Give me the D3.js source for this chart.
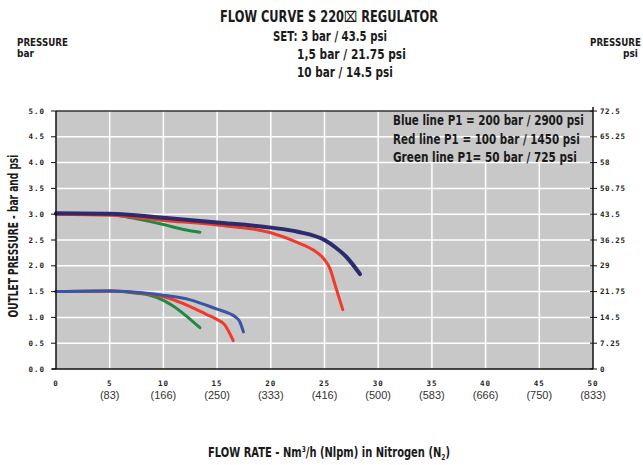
<!DOCTYPE html>
<html>
<head>
<meta charset="utf-8">
<script src="https://cdn.jsdelivr.net/npm/d3@7"></script>
<style>
  body { margin: 0; background: #fff; }
  .cond { font-family: "DejaVu Sans", sans-serif; font-weight: bold; fill: #1a1a1a; }
  .tick-small { font-family: "DejaVu Sans Mono", monospace; font-weight: bold; font-size: 7.5px; letter-spacing: 1px; fill: #222; }
  .nlpm { font-family: "Liberation Sans", Arial, sans-serif; font-size: 11px; fill: #333; }
</style>
</head>
<body>
<div id="chart"></div>
<script>
// flow in Nm3/h, outlet pressure in bar
var xTicks = [0, 5, 10, 15, 20, 25, 30, 35, 40, 45, 50];
var nlpmLabels = ["", "(83)", "(166)", "(250)", "(333)", "(416)", "(500)", "(583)", "(666)", "(750)", "(833)"];
var barTicks = [0, 0.5, 1, 1.5, 2, 2.5, 3, 3.5, 4, 4.5, 5];
var psiLabels = ["0", "7.25", "14.5", "21.75", "29", "36.25", "43.5", "50.75", "58", "65.25", "72.5"];

var titleLines = ["FLOW CURVE S 220\u2327 REGULATOR", "SET: 3 bar / 43.5 psi", "1,5 bar / 21.75 psi", "10 bar / 14.5 psi"];
var legendLines = ["Blue line P1 = 200 bar / 2900 psi", "Red line P1 = 100 bar / 1450 psi", "Green line P1= 50 bar / 725 psi"];

// set 3 bar
var green3 = [[0, 3.0], [5, 3.0], [6, 2.97], [8, 2.89], [10, 2.80], [12, 2.70], [13.4, 2.65]];
var red3 = [[0, 3.0], [5, 2.98], [10, 2.88], [15, 2.79], [20, 2.64], [22.5, 2.45], [24, 2.30], [25, 2.12], [25.5, 1.95], [26, 1.62], [26.4, 1.35], [26.7, 1.15]];
var blue3 = [[0, 3.02], [5, 3.01], [10, 2.93], [15, 2.84], [20, 2.74], [22.5, 2.66], [25, 2.50], [26, 2.36], [27, 2.18], [28.3, 1.84]];
// set 1,5 bar
var green15 = [[0, 1.5], [5, 1.51], [7.5, 1.47], [8.75, 1.43], [10, 1.33], [10.9, 1.22], [12, 1.05], [13.4, 0.80]];
var red15 = [[0, 1.5], [5, 1.51], [8, 1.47], [10, 1.40], [12.5, 1.21], [14, 1.06], [15, 0.96], [15.7, 0.86], [16.1, 0.72], [16.5, 0.55]];
var blue15 = [[0, 1.5], [5, 1.51], [8, 1.48], [10, 1.43], [12.5, 1.34], [15, 1.16], [16.2, 1.07], [16.7, 1.01], [17.1, 0.92], [17.45, 0.72]];

var series = [
  {data: green3, color: "#1f8a3f", w: 3},
  {data: red3, color: "#f03a2c", w: 3},
  {data: blue3, color: "#2c2b6e", w: 4},
  {data: green15, color: "#1f8a3f", w: 3},
  {data: red15, color: "#f03a2c", w: 3},
  {data: blue15, color: "#3b55a6", w: 3}
];

var W = 643, H = 465;
var pl = 56, pr = 593, pt = 111, pb = 369;

var svg = d3.select("#chart").append("svg").attr("width", W).attr("height", H);

var x = d3.scaleLinear().domain([0, 50]).range([pl, pr]);
var y = d3.scaleLinear().domain([0, 5]).range([pb, pt]);

// squeeze a bold text horizontally so it looks condensed and fills the given width
function condText(parent, str, tx, ty, size, width, anchor, rot) {
  var g = parent.append("g");
  var t = g.append("text").attr("class", "cond").attr("font-size", size).text(str);
  var k = width / t.node().getComputedTextLength();
  var dx = anchor === "end" ? -width : anchor === "middle" ? -width / 2 : 0;
  g.attr("transform", "translate(" + tx + "," + ty + ")" + (rot ? " rotate(" + rot + ")" : "") + " translate(" + dx + ",0) scale(" + k + ",1)");
  return t;
}

// plot background
svg.append("rect").attr("x", pl).attr("y", pt).attr("width", pr - pl).attr("height", pb - pt).attr("fill", "#c8c8c8");

// grid (right-hand verticals stop under the legend)
svg.append("g").selectAll("line").data(xTicks.slice(1, -1)).enter().append("line")
  .attr("x1", d => x(d)).attr("x2", d => x(d))
  .attr("y1", d => d >= 35 ? y(4) : pt).attr("y2", pb)
  .attr("stroke", "#fff").attr("stroke-width", 1.5);
svg.append("g").selectAll("line").data(barTicks.slice(1, -1)).enter().append("line")
  .attr("x1", pl).attr("x2", pr).attr("y1", d => y(d)).attr("y2", d => y(d))
  .attr("stroke", "#fff").attr("stroke-width", 1.5);

// legend
var legendLen = [191, 187, 184];
legendLines.forEach(function(d, i) {
  condText(svg, d, 393, 125 + i * 18.5, 14, legendLen[i]);
});

// curves
var line = d3.line().x(d => x(d[0])).y(d => y(d[1])).curve(d3.curveMonotoneX);
svg.append("g").selectAll("path").data(series).enter().append("path")
  .attr("d", d => line(d.data)).attr("fill", "none")
  .attr("stroke", d => d.color).attr("stroke-width", d => d.w)
  .attr("stroke-linecap", "round");

// frame
svg.append("line").attr("x1", pl).attr("x2", pr).attr("y1", pt).attr("y2", pt).attr("stroke", "#333").attr("stroke-width", 1.5);
svg.append("line").attr("x1", pl).attr("x2", pl).attr("y1", pt).attr("y2", pb).attr("stroke", "#111").attr("stroke-width", 1.5);
svg.append("line").attr("x1", pr).attr("x2", pr).attr("y1", pt - 4).attr("y2", pb).attr("stroke", "#111").attr("stroke-width", 1.5);
svg.append("line").attr("x1", pl - 4).attr("x2", pr).attr("y1", pb).attr("y2", pb).attr("stroke", "#111").attr("stroke-width", 1.5);

// left axis (bar)
var yl = svg.append("g");
yl.selectAll("line").data(barTicks).enter().append("line")
  .attr("x1", pl - 5).attr("x2", pl).attr("y1", d => y(d)).attr("y2", d => y(d)).attr("stroke", "#111");
yl.selectAll("text").data(barTicks).enter().append("text")
  .attr("class", "tick-small").attr("x", 45).attr("y", d => y(d) + 2.5).attr("text-anchor", "end")
  .text(d => d3.format(".1f")(d));

// right axis (psi)
var yr = svg.append("g");
yr.selectAll("line").data(barTicks).enter().append("line")
  .attr("x1", pr - 3).attr("x2", pr + 4).attr("y1", d => y(d)).attr("y2", d => y(d)).attr("stroke", "#111");
yr.selectAll("text").data(barTicks).enter().append("text")
  .attr("class", "tick-small").attr("x", 600).attr("y", d => y(d) + 2.5)
  .style("letter-spacing", "0.6px")
  .text((d, i) => psiLabels[i]);

// bottom axis
var xa = svg.append("g");
xa.selectAll("text.n").data(xTicks).enter().append("text")
  .attr("class", "tick-small").attr("x", d => x(d)).attr("y", 386).attr("text-anchor", "middle")
  .text(d => d);
xa.selectAll("text.p").data(xTicks).enter().append("text")
  .attr("class", "nlpm").attr("x", d => x(d)).attr("y", 399).attr("text-anchor", "middle")
  .text((d, i) => nlpmLabels[i]);

// titles
var tl = [
  {x: 220, y: 22, len: 218, size: 15},
  {x: 273, y: 41, len: 114, size: 14},
  {x: 297, y: 59, len: 109, size: 14},
  {x: 297, y: 77, len: 96, size: 14}
];
titleLines.forEach(function(d, i) {
  condText(svg, d, tl[i].x, tl[i].y, tl[i].size, tl[i].len);
});

condText(svg, "PRESSURE", 17, 46, 11, 51);
condText(svg, "bar", 17, 57, 11, 17);
condText(svg, "PRESSURE", 641, 46, 11, 51, "end");
condText(svg, "psi", 638, 57, 11, 15, "end");

condText(svg, "OUTLET  PRESSURE - bar and psi", 18, 236, 14, 163, "middle", -90);

var xt = condText(svg, "", 329, 457, 13.5, 1, "middle");
xt.append("tspan").text("FLOW RATE - Nm");
xt.append("tspan").attr("font-size", 8).attr("dy", -5).text("3");
xt.append("tspan").attr("dy", 5).text("/h (Nlpm) in Nitrogen (N");
xt.append("tspan").attr("font-size", 8).attr("dy", 3).text("2");
xt.append("tspan").attr("dy", -3).text(")");
var xk = 242 / xt.node().getComputedTextLength();
d3.select(xt.node().parentNode).attr("transform", "translate(" + (329 - 121) + ",457) scale(" + xk + ",1)");
</script>
</body>
</html>
